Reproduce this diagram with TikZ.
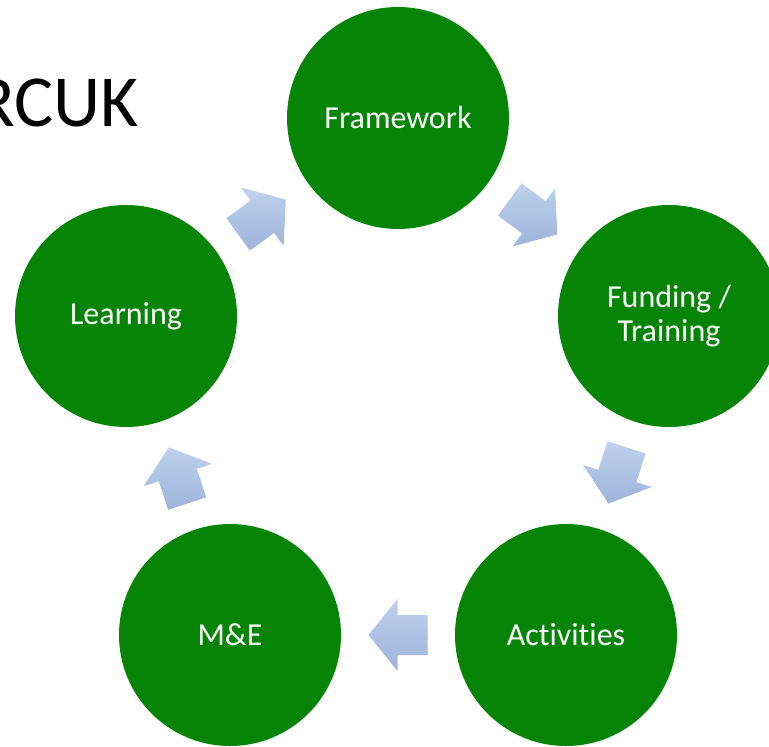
\documentclass[tikz,border=0pt]{standalone}
\usepackage{fontspec}
\setmainfont{Carlito}[Ligatures=NoCommon]
\usetikzlibrary{calc}
\definecolor{cgreen}{RGB}{6,132,6}
\definecolor{atop}{RGB}{190,209,237}
\definecolor{abot}{RGB}{157,179,217}
\tikzset{
  stage/.style={circle, fill=cgreen, draw=none, minimum size=222*0.75pt, inner sep=0pt,
    text=white, align=center, font=\fontsize{24}{25.5}\selectfont},
  arrowfill/.style={top color=atop, bottom color=abot, draw=none}
}
% block arrow from the midpoint between two nodes, pointing from #1 to #2
\newcommand\cyclearrow[3]{%
  \coordinate (#3) at ($(#1)!0.5!(#2)$);
  \shade[arrowfill] let \p1=($(#2)-(#1)$), \n1={atan2(\y1,\x1)} in
    ($(#3)+(\n1:-22.125pt)+(\n1+90:15pt)$) --
    ($(#3)+(\n1:0.375pt)+(\n1+90:15pt)$) --
    ($(#3)+(\n1:0.375pt)+(\n1+90:27pt)$) --
    ($(#3)+(\n1:22.125pt)$) --
    ($(#3)+(\n1:0.375pt)+(\n1-90:27pt)$) --
    ($(#3)+(\n1:0.375pt)+(\n1-90:15pt)$) --
    ($(#3)+(\n1:-22.125pt)+(\n1-90:15pt)$) -- cycle;}
\begin{document}
\begin{tikzpicture}[x=0.75pt, y=-0.75pt]
\useasboundingbox (0,0) rectangle (769,747);
\clip (0,0) rectangle (769,747);
\node[anchor=base east, inner sep=0pt, font=\fontsize{55}{60}\selectfont] (title) at (139,126) {RCUK};
\node[stage] (fw) at (398,118) {Framework};
\node[stage] (fu) at (669,316) {Funding /\\Training};
\node[stage] (ac) at (566,635) {Activities};
\node[stage] (me) at (230,635) {M\&E};
\node[stage] (le) at (126,316) {Learning};
\cyclearrow{fw}{fu}{m1}
\cyclearrow{fu}{ac}{m2}
\cyclearrow{ac}{me}{m3}
\cyclearrow{me}{le}{m4}
\cyclearrow{le}{fw}{m5}
\end{tikzpicture}
\end{document}
